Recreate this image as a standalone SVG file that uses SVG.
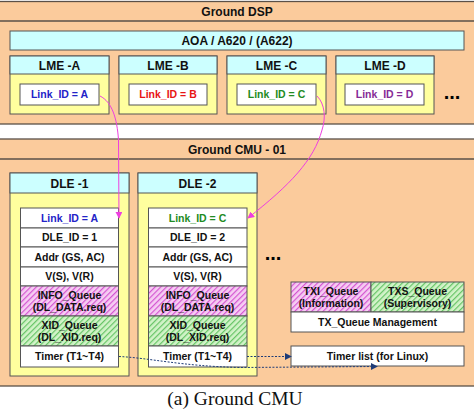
<svg xmlns="http://www.w3.org/2000/svg" width="474" height="416" viewBox="0 0 474 416">
<defs>
<pattern id="hpink" patternUnits="userSpaceOnUse" width="4" height="4" patternTransform="rotate(45)">
<rect width="4" height="4" fill="#F6CDF3"/>
<rect width="1.2" height="4" fill="#D455D1"/>
</pattern>
<pattern id="hgreen" patternUnits="userSpaceOnUse" width="4" height="4" patternTransform="rotate(45)">
<rect width="4" height="4" fill="#D2F3C8"/>
<rect width="1.2" height="4" fill="#66C466"/>
</pattern>
<marker id="mpink" viewBox="0 0 8 8" refX="7" refY="4" markerWidth="7" markerHeight="7" markerUnits="userSpaceOnUse" orient="auto">
<path d="M0,0 L8,4 L0,8 Z" fill="#EE3FE0"/>
</marker>
<marker id="mnavy" viewBox="0 0 8 8" refX="7" refY="4" markerWidth="7" markerHeight="7" markerUnits="userSpaceOnUse" orient="auto">
<path d="M0,0 L8,4 L0,8 Z" fill="#1E3C78"/>
</marker>
</defs>
<style>
.peach{fill:#FBCB9C;stroke:#5A5048;stroke-width:1.3}
.cyan{fill:#CCFFFF;stroke:#555;stroke-width:1}
.yel{fill:#FFFF9E;stroke:#555;stroke-width:1}
.wht{fill:#FFFFFF;stroke:#555;stroke-width:1}
.pk{fill:url(#hpink);stroke:#555;stroke-width:1}
.gr{fill:url(#hgreen);stroke:#555;stroke-width:1}
text{font-family:"Liberation Sans",Arial,sans-serif;font-weight:bold;text-anchor:middle;fill:#111}
.h{font-size:12px}
.t{font-size:10.5px}
.dots{font-size:20px;fill:#000}
.cap{font-family:"Liberation Serif","Times New Roman",serif;font-weight:normal;font-size:19.5px}
.pl{fill:none;stroke:#EE3FE0;stroke-width:1}
.nv{fill:none;stroke:#1E3C78;stroke-width:1;stroke-dasharray:2,1.5}
</style>

<g id="ground-dsp">
<rect class="peach" x="-2" y="1.5" width="478" height="122.5"/>
<line x1="-2" y1="21" x2="476" y2="21" stroke="#5A5048" stroke-width="1.3"/>
<text class="h" x="237" y="15.5">Ground DSP</text>
</g>
<g id="aoa">
<rect class="cyan" x="10" y="31" width="454" height="19"/>
<text class="h" x="237" y="45">AOA / A620 / (A622)</text>
</g>
<g id="lme-a">
<rect class="yel" x="10" y="56" width="99" height="58"/>
<rect class="cyan" x="10" y="56" width="99" height="18"/>
<text class="h" x="59.5" y="69.5">LME -A</text>
<rect class="wht" x="20" y="84" width="79" height="21"/>
<text class="t" x="59.5" y="98.3" style="fill:#2323C8">Link_ID = A</text>
</g>
<g id="lme-b">
<rect class="yel" x="119" y="56" width="98" height="58"/>
<rect class="cyan" x="119" y="56" width="98" height="18"/>
<text class="h" x="168" y="69.5">LME -B</text>
<rect class="wht" x="129" y="84" width="78" height="21"/>
<text class="t" x="168" y="98.3" style="fill:#E81414">Link_ID = B</text>
</g>
<g id="lme-c">
<rect class="yel" x="227" y="56" width="99" height="58"/>
<rect class="cyan" x="227" y="56" width="99" height="18"/>
<text class="h" x="276.5" y="69.5">LME -C</text>
<rect class="wht" x="237" y="84" width="79" height="21"/>
<text class="t" x="276.5" y="98.3" style="fill:#228B22">Link_ID = C</text>
</g>
<g id="lme-d">
<rect class="yel" x="336" y="56" width="98" height="58"/>
<rect class="cyan" x="336" y="56" width="98" height="18"/>
<text class="h" x="385" y="69.5">LME -D</text>
<rect class="wht" x="345" y="84" width="79" height="21"/>
<text class="t" x="384.5" y="98.3" style="fill:#862A96">Link_ID = D</text>
</g>
<g id="dsp-more"><text class="dots" x="452" y="99">...</text></g>

<g id="ground-cmu">
<rect class="peach" x="-2" y="139" width="478" height="247"/>
<line x1="-2" y1="159" x2="476" y2="159" stroke="#5A5048" stroke-width="1.3"/>
<text class="h" x="237" y="153.5">Ground CMU - 01</text>
</g>

<g id="dle-1">
<rect class="yel" x="10" y="173" width="119" height="203"/>
<rect class="cyan" x="10" y="173" width="119" height="20"/>
<text class="h" x="69.5" y="187.5">DLE -1</text>
<rect class="wht" x="20.5" y="208" width="98" height="20"/>
<text class="t" x="69.5" y="221.7" style="fill:#2323C8">Link_ID = A</text>
<rect class="wht" x="20.5" y="228" width="98" height="19"/>
<text class="t" x="69.5" y="241.2">DLE_ID = 1</text>
<rect class="wht" x="20.5" y="247" width="98" height="20"/>
<text class="t" x="69.5" y="260.7">Addr (GS, AC)</text>
<rect class="wht" x="20.5" y="267" width="98" height="19"/>
<text class="t" x="69.5" y="280.2">V(S), V(R)</text>
<rect class="pk" x="20.5" y="286" width="98" height="30"/>
<text class="t" x="69.5" y="298.5">INFO_Queue</text>
<text class="t" x="69.5" y="311">(DL_DATA.req)</text>
<rect class="gr" x="20.5" y="316" width="98" height="30"/>
<text class="t" x="69.5" y="328.5">XID_Queue</text>
<text class="t" x="69.5" y="341">(DL_XID.req)</text>
<rect class="wht" x="20.5" y="346" width="98" height="21"/>
<text class="t" x="69.5" y="360">Timer (T1~T4)</text>
</g>

<g id="dle-2">
<rect class="yel" x="138" y="173" width="119" height="203"/>
<rect class="cyan" x="138" y="173" width="119" height="20"/>
<text class="h" x="197.5" y="187.5">DLE -2</text>
<rect class="wht" x="148.5" y="208" width="98.5" height="20"/>
<text class="t" x="197.5" y="221.7" style="fill:#228B22">Link_ID = C</text>
<rect class="wht" x="148.5" y="228" width="98.5" height="19"/>
<text class="t" x="197.5" y="241.2">DLE_ID = 2</text>
<rect class="wht" x="148.5" y="247" width="98.5" height="20"/>
<text class="t" x="197.5" y="260.7">Addr (GS, AC)</text>
<rect class="wht" x="148.5" y="267" width="98.5" height="19"/>
<text class="t" x="197.5" y="280.2">V(S), V(R)</text>
<rect class="pk" x="148.5" y="286" width="98.5" height="30"/>
<text class="t" x="197.5" y="298.5">INFO_Queue</text>
<text class="t" x="197.5" y="311">(DL_DATA.req)</text>
<rect class="gr" x="148.5" y="316" width="98.5" height="30"/>
<text class="t" x="197.5" y="328.5">XID_Queue</text>
<text class="t" x="197.5" y="341">(DL_XID.req)</text>
<rect class="wht" x="148.5" y="346" width="98.5" height="21"/>
<text class="t" x="197.5" y="360">Timer (T1~T4)</text>
</g>
<g id="cmu-more"><text class="dots" x="273" y="260">...</text></g>

<g id="tx-queue">
<rect class="pk" x="291" y="282" width="80" height="30"/>
<rect class="gr" x="371" y="282" width="93" height="30"/>
<rect class="wht" x="291" y="312" width="173" height="20"/>
<text class="t" x="331" y="294.5">TXI_Queue</text>
<text class="t" x="331" y="306.5">(Information)</text>
<text class="t" x="417.5" y="294.5">TXS_Queue</text>
<text class="t" x="417.5" y="306.5">(Supervisory)</text>
<text class="t" x="377.5" y="325.7">TX_Queue Management</text>
</g>
<g id="timer-list">
<rect class="wht" x="291" y="346" width="173" height="20"/>
<text class="t" x="377.5" y="359.7">Timer list (for Linux)</text>
</g>

<g id="connectors">
<path class="pl" d="M100,96 C112,102 117,118 118.5,140 L119,218" marker-end="url(#mpink)"/>
<path class="pl" d="M317,96 C325,104 326,118 322,130 C314,160 290,185 248,218" marker-end="url(#mpink)"/>
<path class="nv" d="M119,356.5 C150,358 180,366 240,367.5 L377,366.5" marker-end="url(#mnavy)"/>
<path class="nv" d="M247,356.5 L291,356.5" marker-end="url(#mnavy)"/>
</g>

<g id="caption">
<text class="cap" x="235" y="405">(a) Ground CMU</text>
</g>
</svg>
